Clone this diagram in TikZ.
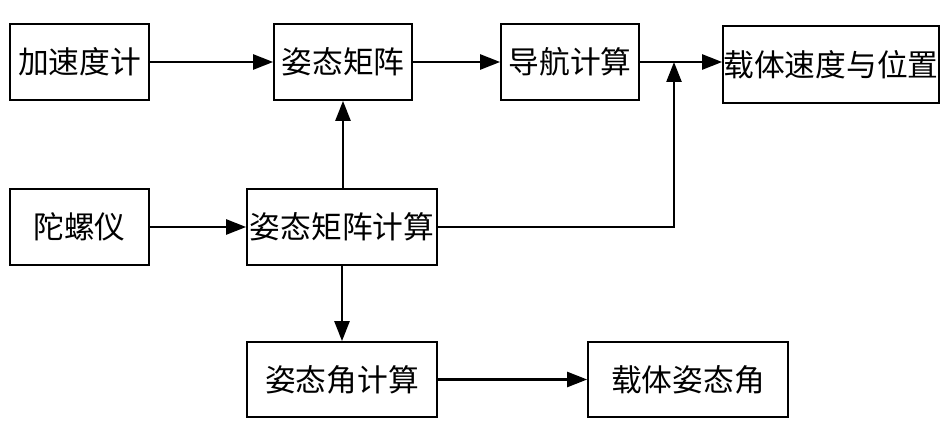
\documentclass[tikz,border=0pt]{standalone}
\usepackage{fontspec}
\newfontfamily\cjk{Noto Sans CJK SC}
\usetikzlibrary{arrows.meta}
\begin{document}
\begin{tikzpicture}[x=0.02cm, y=-0.02cm,
		blk/.style={draw, line width=1pt, inner sep=0pt, minimum height=1.52cm, font=\cjk\fontsize{17.5}{20}\selectfont},
		flow/.style={line width=1.4pt, -{Triangle[length=0.4cm, width=0.3cm]}}]
		\useasboundingbox (0,0) rectangle (946,425);
		% boxes
		\node[blk, minimum width=2.78cm] (acc) at (79.5,62) {加速度计};
		\node[blk, minimum width=2.76cm] (mat) at (343,62) {姿态矩阵};
		\node[blk, minimum width=2.76cm] (nav) at (570,62) {导航计算};
		\node[blk, minimum width=4.32cm, minimum height=1.54cm] (vel) at (831,64.5) {载体速度与位置};
		\node[blk, minimum width=2.78cm] (gyro) at (79.5,227) {陀螺仪};
		\node[blk, minimum width=3.8cm] (matc) at (342,227) {姿态矩阵计算};
		\node[blk, minimum width=3.8cm, minimum height=1.5cm] (angc) at (342,379.5) {姿态角计算};
		\node[blk, minimum width=4cm, minimum height=1.5cm] (ang) at (688,379.5) {载体姿态角};
		% connectors
		\draw[flow] (acc) -- (mat);
		\draw[flow] (mat) -- (nav);
		\draw[flow] (nav.east) -- (nav.east -| vel.west);
		\draw[flow] (gyro) -- (matc);
		\draw[flow] (matc.north -| mat.south) -- (mat.south);
		\draw[flow] (matc) -- (angc);
		\draw[flow] (angc) -- (ang);
		\coordinate (turn) at (674,227);
		\draw[flow] (matc.east) -- (turn) -- (turn |- nav.east);
	\end{tikzpicture}
\end{document}
